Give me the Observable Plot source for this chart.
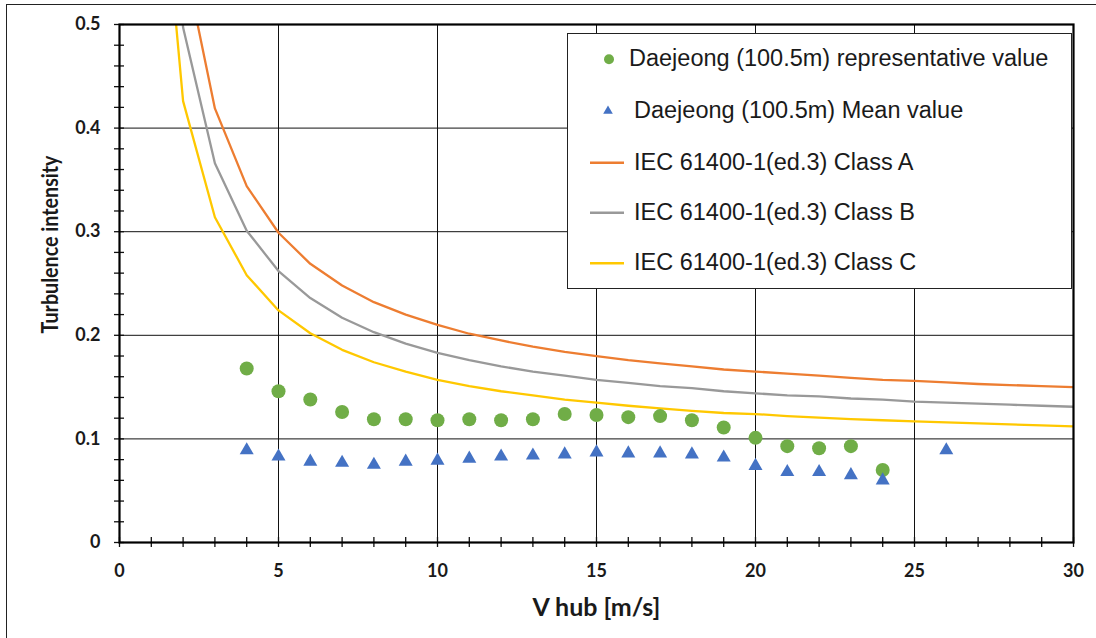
<!DOCTYPE html>
<html><head><meta charset="utf-8">
<script src="https://cdn.jsdelivr.net/npm/d3@7"></script>
<script src="https://cdn.jsdelivr.net/npm/@observablehq/plot@0.6"></script>
<style>
html,body{margin:0;padding:0;background:#fff;}
#wrap{position:relative;width:1096px;height:638px;overflow:hidden;background:#fff;}
#border{position:absolute;left:6px;top:4px;width:1200px;height:800px;border:1.5px solid #222;pointer-events:none;z-index:3;}
#legend{position:absolute;left:567px;top:33px;width:505px;height:256px;background:#fff;border:1.5px solid #222;box-sizing:border-box;font-family:"Liberation Sans",Arial,sans-serif;font-size:23.5px;color:#1a1a1a;z-index:2;}
#legend .txt{position:absolute;white-space:nowrap;transform:translateY(-50%);line-height:1;}
#legend svg{position:absolute;left:0;top:0;}
</style>
</head><body>
<div id="wrap"><div id="border"></div></div>
<script>
// Wind speed bins (m/s)
const speeds = [4,5,6,7,8,9,10,11,12,13,14,15,16,17,18,19,20,21,22,23,24];
const representative = [0.168,0.146,0.138,0.126,0.119,0.119,0.118,0.119,0.118,0.119,0.124,0.123,0.121,0.122,0.118,0.111,0.101,0.093,0.091,0.093,0.070];
const meanSpeeds = [4,5,6,7,8,9,10,11,12,13,14,15,16,17,18,19,20,21,22,23,24,26];
const meanValues = [0.089,0.083,0.078,0.077,0.075,0.078,0.079,0.081,0.083,0.084,0.085,0.087,0.086,0.086,0.085,0.082,0.074,0.068,0.068,0.065,0.060,0.089];
// IEC curves, read at integer speeds
const curveSpeeds = [1,2,3,4,5,6,7,8,9,10,11,12,13,14,15,16,17,18,19,20,21,22,23,24,25,26,27,28,29,30];
const classA = [1.016,0.568,0.419,0.344,0.299,0.269,0.248,0.232,0.220,0.210,0.2015,0.195,0.189,0.184,0.180,0.176,0.173,0.170,0.167,0.165,0.163,0.161,0.159,0.157,0.156,0.1545,0.153,0.152,0.151,0.150];
const classB = [0.889,0.497,0.366,0.301,0.262,0.236,0.217,0.203,0.192,0.183,0.176,0.170,0.165,0.161,0.157,0.154,0.151,0.149,0.146,0.144,0.142,0.141,0.139,0.138,0.136,0.135,0.134,0.133,0.132,0.131];
const classC = [0.762,0.426,0.314,0.258,0.224,0.202,0.186,0.174,0.165,0.157,0.151,0.146,0.142,0.138,0.135,0.132,0.1295,0.127,0.125,0.124,0.122,0.1205,0.119,0.118,0.117,0.116,0.115,0.114,0.113,0.112];
const seriesNames = ["Daejeong (100.5m) representative value","Daejeong (100.5m) Mean value","IEC 61400-1(ed.3) Class A","IEC 61400-1(ed.3) Class B","IEC 61400-1(ed.3) Class C"];
const colors = ["#70AD47","#4472C4","#ED7D31","#999999","#FFC800"];
const xTicks = [0,5,10,15,20,25,30];
const yTicks = [0,0.1,0.2,0.3,0.4,0.5];
const xLabel = "V hub [m/s]";
const yLabel = "Turbulence intensity";

const rep = speeds.map((v,i)=>({v, ti: representative[i]}));
const mean = meanSpeeds.map((v,i)=>({v, ti: meanValues[i]}));
const curves = [classA,classB,classC].flatMap((arr,k)=>curveSpeeds.map((v,i)=>({v, ti: arr[i], cls: k})));

const minorX = d3.range(0,31,1);
const minorY = d3.range(0,0.5001,0.02).map(d=>+d.toFixed(2));

const chart = Plot.plot({
  width: 1096, height: 638,
  marginLeft: 119, marginRight: 23, marginTop: 24, marginBottom: 96,
  style: {fontFamily: "Lato, sans-serif", fontSize: "18px", fontWeight: "bold", color: "#1a1a1a", background: "transparent"},
  x: {domain: [0,30]},
  y: {domain: [0,0.5]},
  marks: [
    Plot.ruleX(xTicks.slice(1,-1), {stroke: "#111", strokeWidth: 1}),
    Plot.ruleY(yTicks.slice(1,-1), {stroke: "#111", strokeWidth: 1}),
    Plot.axisX({ticks: minorX, tickSize: 10, dy: -5, text: null, stroke: "#111", strokeWidth: 1.3, label: null}),
    Plot.axisY({ticks: minorY, tickSize: 10, dx: 5, text: null, stroke: "#111", strokeWidth: 1.3, label: null}),
    Plot.axisX({ticks: xTicks, tickSize: 0, tickPadding: 22, tickFormat: d=>String(d), label: null, fontSize: 18}),
    Plot.axisY({ticks: yTicks, tickSize: 0, tickPadding: 19, tickFormat: d=>String(d), label: null, fontSize: 18}),
    Plot.line(curves, {x: "v", y: "ti", z: "cls", stroke: d=>colors[d.cls+2], strokeWidth: 2.3, clip: true}),
    Plot.dot(rep, {x: "v", y: "ti", r: 7, fill: colors[0], stroke: null}),
    Plot.dot(mean, {x: "v", y: "ti", r: 5.2, symbol: "triangle", fill: colors[1], stroke: null}),
    Plot.frame({stroke: "#000", strokeWidth: 2.2}),
    Plot.text([xLabel], {frameAnchor: "bottom", dy: 65, text: d=>d, fontSize: 25, fontWeight: "bold", lineAnchor: "middle"}),
    Plot.text([yLabel], {frameAnchor: "left", dx: -69, dy: 50, rotate: -90, text: d=>d, fontSize: 22, fontWeight: "bold", lineAnchor: "middle", className: "ytitle"})
  ]
});
const wrap = document.getElementById("wrap");
chart.style.position = "absolute"; chart.style.left = "0"; chart.style.top = "0";
wrap.appendChild(chart);
const yt = chart.querySelector(".ytitle text");
if (yt) { yt.setAttribute("textLength", 178); yt.setAttribute("lengthAdjust", "spacingAndGlyphs"); }

// legend
const legend = document.createElement("div");
legend.id = "legend";
const rowsY = [25.3, 77, 128.7, 178.7, 229.3];
const textX = [61, 66, 66, 66, 66];
const ns = "http://www.w3.org/2000/svg";
const lsvg = document.createElementNS(ns, "svg");
lsvg.setAttribute("width", 505); lsvg.setAttribute("height", 256);
seriesNames.forEach((name,i)=>{
  const y = rowsY[i];
  let el;
  if (i === 0) {
    el = document.createElementNS(ns, "circle");
    el.setAttribute("cx", 41); el.setAttribute("cy", y); el.setAttribute("r", 5); el.setAttribute("fill", colors[i]);
  } else if (i === 1) {
    el = document.createElementNS(ns, "path");
    el.setAttribute("d", d3.symbol(d3.symbolTriangle, 40)());
    el.setAttribute("transform", `translate(40,${y})`); el.setAttribute("fill", colors[i]);
  } else {
    el = document.createElementNS(ns, "line");
    el.setAttribute("x1", 22); el.setAttribute("x2", 56); el.setAttribute("y1", y); el.setAttribute("y2", y);
    el.setAttribute("stroke", colors[i]); el.setAttribute("stroke-width", 2.5);
  }
  lsvg.appendChild(el);
  const t = document.createElement("div");
  t.className = "txt"; t.textContent = name;
  t.style.left = textX[i] + "px"; t.style.top = y + "px";
  legend.appendChild(t);
});
legend.appendChild(lsvg);
wrap.appendChild(legend);
</script>
</body></html>
